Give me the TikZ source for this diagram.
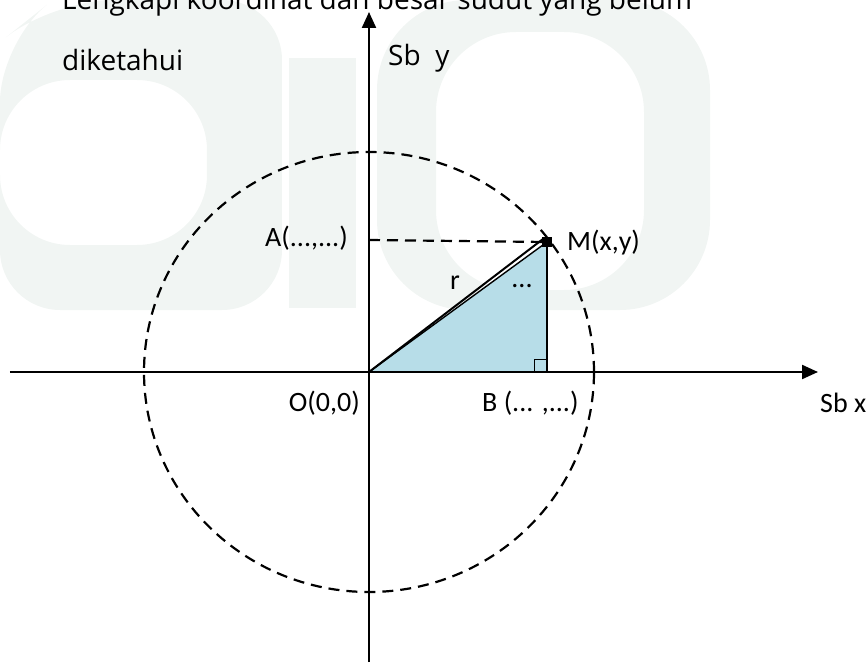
\documentclass[tikz,border=0pt]{standalone}
\usepackage{fontspec}
\setmainfont{Carlito}
\newfontfamily\handfont{Open Sans}
\usetikzlibrary{arrows.meta}
\definecolor{wmark}{HTML}{F1F5F3}
\definecolor{trifill}{HTML}{B7DDE8}
\tikzset{
  axis/.style={line width=2.2pt,-{Triangle[length=16pt,width=14pt]}},
  lbl/.style={font=\fontsize{28}{32}\selectfont,inner sep=0pt},
  hand/.style={font=\handfont\fontsize{28}{32}\selectfont,inner sep=0pt},
  dashline/.style={line width=2.2pt,dash pattern=on 11pt off 7pt}
}
\begin{document}
\begin{tikzpicture}[x=1pt,y=1pt]
\useasboundingbox (-369,-290) rectangle (498,372);
\clip (-369,-290) rectangle (498,372);
% watermark in the background
\fill[wmark,even odd rule] [rounded corners=60pt] (-316,372) -- (-87,372) -- (-87,62) -- (-369,62) -- (-369,330) -- cycle
  [rounded corners=70pt] (-369,292) -- (-162,292) -- (-162,127) -- (-369,127) -- cycle;
\fill[wmark] (-80,64) rectangle (-13,314);
\fill[wmark,even odd rule] [rounded corners=90pt] (8,372) -- (341,372) -- (341,62) -- (8,62) -- cycle
  [rounded corners=80pt] (67,340) -- (275,340) -- (275,82) -- (67,82) -- cycle;
\coordinate (O) at (0,0);
\coordinate (B) at (178,0);
\coordinate (M) at (178,130);
\coordinate (A) at (0,132);
\coordinate (xl) at (-359,0);
\coordinate (xr) at (449,0);
\coordinate (yb) at (0,-290);
\coordinate (yt) at (0,360);
% triangle
\fill[trifill] (O) -- (B) -- (M) -- cycle;
\draw[line width=1.4pt] (O) -- (M);
\draw[line width=2pt] (O) -- ([shift={(-4pt,3pt)}]M);
\draw[line width=2pt] (M) -- (B);
\draw[line width=0.7pt] ([xshift=-13pt]B) rectangle ([yshift=13pt]B);
% axes and circle
\draw[axis] (xl) -- (xr);
\draw[axis] (yb) -- (yt);
\draw[dashline] (O) ellipse [x radius=225, y radius=220];
\draw[dashline] (A) -- (M);
\fill ([shift={(-5pt,-5pt)}]M) rectangle ([shift={(5pt,5pt)}]M);
% labels
\node[lbl,anchor=east] (Alab) at (-21,134) {A(...,...)};
\node[lbl,anchor=west] (Mlab) at (198,129) {M(x,y)};
\node[lbl] (rlab) at (86,89) {r};
\node[lbl] (ang) at (153,86) {...};
\node[lbl,anchor=east] (Olab) at (-9,-31) {O(0,0)};
\node[lbl,anchor=west] (Blab) at (113,-31) {B (... ,...)};
\node[lbl,anchor=west] (xlab) at (451,-31) {Sb x};
\node[hand,anchor=west] (ylab) at (19,314) {Sb\ \ y};
\node[hand,anchor=west] (txt2) at (-307,312) {diketahui};
\node[hand,anchor=base west] (txt1) at (-307,362) {Lengkapi koordinat dan besar sudut yang belum};
\end{tikzpicture}
\end{document}
